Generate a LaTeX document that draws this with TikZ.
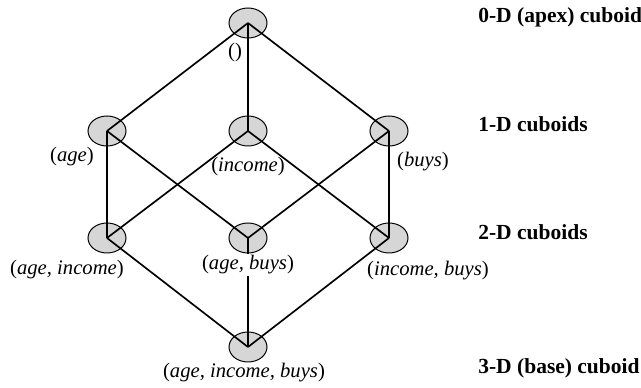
\documentclass[tikz,border=0pt]{standalone}
\usepackage{fontspec}
\setmainfont{Liberation Serif}
\usetikzlibrary{positioning,shapes.geometric}

\begin{document}
\begin{tikzpicture}[x=0.6pt, y=-0.6pt,
    cuboid/.style={ellipse, draw=black, line width=0.6pt, fill=black!16,
      minimum width=22.8pt, minimum height=18pt, inner sep=0pt},
    lbl/.style={font=\fontsize{12.4}{14}\selectfont, inner sep=1pt},
    lvl/.style={font=\fontsize{12.9}{15}\selectfont\bfseries, anchor=west, inner sep=0pt},
    edge/.style={line width=1pt}
  ]
    \useasboundingbox (0,0) rectangle (641,388);
    % cuboid lattice
    \node[cuboid] (APEX) at (248,23) {};
    \node[cuboid] (AGE) at (107,131) {};
    \node[cuboid] (INC) at (248,131) {};
    \node[cuboid] (BUY) at (389,131) {};
    \node[cuboid] (AGEINC) at (107,238) {};
    \node[cuboid] (AGEBUY) at (248,238) {};
    \node[cuboid] (INCBUY) at (389,238) {};
    \node[cuboid] (BASE) at (248,347) {};
    \draw[edge] (APEX.center) -- (AGE.center);
    \draw[edge] (APEX.center) -- (INC.center);
    \draw[edge] (APEX.center) -- (BUY.center);
    \draw[edge] (AGE.center) -- (AGEINC.center);
    \draw[edge] (AGE.center) -- (AGEBUY.center);
    \draw[edge] (INC.center) -- (AGEINC.center);
    \draw[edge] (INC.center) -- (INCBUY.center);
    \draw[edge] (BUY.center) -- (AGEBUY.center);
    \draw[edge] (BUY.center) -- (INCBUY.center);
    \draw[edge] (AGEINC.center) -- (BASE.center);
    \draw[edge] (AGEBUY.center) -- (BASE.center);
    \draw[edge] (INCBUY.center) -- (BASE.center);
    % cuboid labels
    \node[lbl] (LAPEX) at ([xshift=-7.8pt, yshift=-18pt]APEX.center) {()};
    \node[lbl] (LAGE) at ([xshift=-21pt, yshift=-15.6pt]AGE.center) {(\textit{age})};
    \node[lbl] (LINC) at ([yshift=-21.5pt]INC.center) {(\textit{income})};
    \node[lbl] (LBUY) at ([xshift=20.4pt, yshift=-18.6pt]BUY.center) {(\textit{buys})};
    \node[lbl] (LAGEINC) at ([xshift=-24pt, yshift=-19.2pt]AGEINC.center) {(\textit{age, income})};
    \node[lbl, fill=white] (LAGEBUY) at ([yshift=-16.2pt]AGEBUY.center) {(\textit{age, buys})};
    \node[lbl] (LINCBUY) at ([xshift=23.4pt, yshift=-19.8pt]INCBUY.center) {(\textit{income, buys})};
    \node[lbl] (LBASE) at ([xshift=-2.4pt, yshift=-15.6pt]BASE.center) {(\textit{age, income, buys})};
    % level names
    \node[lvl] (D0) at (478,17) {0-D (apex) cuboid};
    \node[lvl] (D1) at (478,124) {1-D cuboids};
    \node[lvl] (D2) at (478,232) {2-D cuboids};
    \node[lvl] (D3) at (478,368) {3-D (base) cuboid};
  \end{tikzpicture}
\end{document}
